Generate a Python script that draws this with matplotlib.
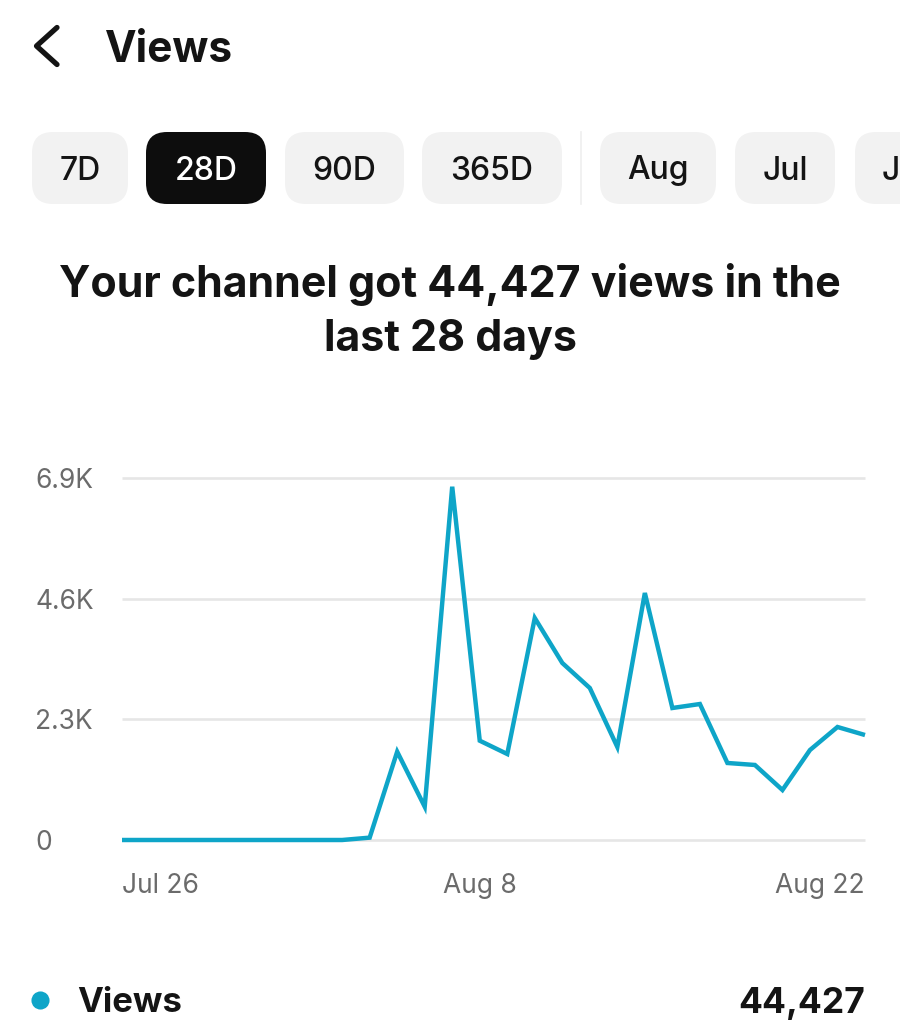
import matplotlib
matplotlib.use("Agg")
import matplotlib.pyplot as plt
from matplotlib.patches import FancyBboxPatch
from matplotlib.lines import Line2D

# ---- data ----
day_index = list(range(28))
views = [0, 0, 0, 0, 0, 0, 0, 0, 0, 45, 1683, 635, 6734, 1893, 1639, 4231, 3374,
         2897, 1773, 4708, 2516, 2592, 1468, 1430, 953, 1715, 2154, 2001]
y_ticks = [0, 2300, 4600, 6900]
y_labels = ["0", "2.3K", "4.6K", "6.9K"]
x_label_text = ["Jul 26", "Aug 8", "Aug 22"]
x_label_pos = [0, 13, 27]
pill_labels = ["7D", "28D", "90D", "365D", "Aug", "Jul", "J"]
title_lines = ["Your channel got 44,427 views in the", "last 28 days"]
total_label = "44,427"

# ---- style ----
W, H = 900, 1035
plt.rcParams["font.family"] = ["Inter", "DejaVu Sans"]
INK = "#141414"
GREY = "#6b6b6b"
LINE = "#0ea5c8"
GRID = "#e6e6e6"
PILL = "#f2f2f2"

fig = plt.figure(figsize=(W / 100, H / 100), dpi=100, facecolor="white")

# page layer in pixel units
ui = fig.add_axes([0, 0, 1, 1])
ui.set_xlim(0, W)
ui.set_ylim(H, 0)
ui.axis("off")

# header
ui.add_line(Line2D([57, 36.5, 57], [27.5, 46, 64.5], color=INK, lw=3.8,
                   solid_capstyle="round", solid_joinstyle="round"))
ui.text(104.5, 50, "Views", fontsize=30.5, fontweight="bold", color=INK, va="center", ha="left")

# pills
pill_spans = [(32, 128), (146, 266), (285, 404), (422, 562), (600, 716), (735, 835), (855, 960)]
for lab, (x0, x1) in zip(pill_labels, pill_spans):
    active = lab == "28D"
    r = 21
    ui.add_patch(FancyBboxPatch((x0 + r, 132 + r), x1 - x0 - 2 * r, 72 - 2 * r,
                                boxstyle=f"round,pad={r},rounding_size={r}",
                                fc="#0d0d0d" if active else PILL, ec="none", clip_on=True))
    cx = 891 if lab == "J" else (x0 + x1) / 2
    ui.text(cx, 171, lab, fontsize=23, fontweight="medium",
            color="white" if active else INK, ha="center", va="center", clip_on=True)
ui.add_line(Line2D([581, 581], [132, 204], color="#efefef", lw=1.2))

# headline
ui.text(450, 285, title_lines[0], fontsize=30.9, fontweight="bold", color=INK, ha="center", va="center")
ui.text(450, 340, title_lines[1], fontsize=30.9, fontweight="bold", color=INK, ha="center", va="center")

# chart
ax = fig.add_axes([122 / W, 1 - 840 / H, (865 - 122) / W, (840 - 478) / H])
ax.set_xlim(0, 27)
ax.set_ylim(0, 6900)
ax.patch.set_alpha(0)
for s in ax.spines.values():
    s.set_visible(False)
ax.set_yticks(y_ticks, y_labels)
ax.set_xticks(x_label_pos, x_label_text)
ax.tick_params(axis="both", length=0, labelsize=19, labelcolor=GREY)
ax.tick_params(axis="y", pad=0)
ax.tick_params(axis="x", pad=24)
ax.grid(axis="y", color=GRID, lw=1.9, clip_on=False)
ax.grid(axis="x", visible=False)
ax.set_axisbelow(True)
for gl in ax.get_ygridlines():
    gl.set_clip_on(False)
    gl.set_solid_capstyle("butt")
for t in ax.get_yticklabels():
    t.set_ha("left")
    t.set_x(-87 / (865 - 122))
xt = ax.get_xticklabels()
xt[0].set_ha("left")
xt[2].set_ha("right")
ax.plot(day_index, views, color=LINE, lw=3.2, clip_on=False,
        solid_joinstyle="miter", solid_capstyle="butt")

# footer legend
ui.scatter([40], [1000], s=170, color=LINE, linewidths=0)
ui.text(77, 1003, "Views", fontsize=25, fontweight="bold", color=INK, ha="left", va="center")
ui.text(865, 1003, total_label, fontsize=25.5, fontweight="bold", color=INK, ha="right", va="center")

fig.savefig("out.png", dpi=100)
